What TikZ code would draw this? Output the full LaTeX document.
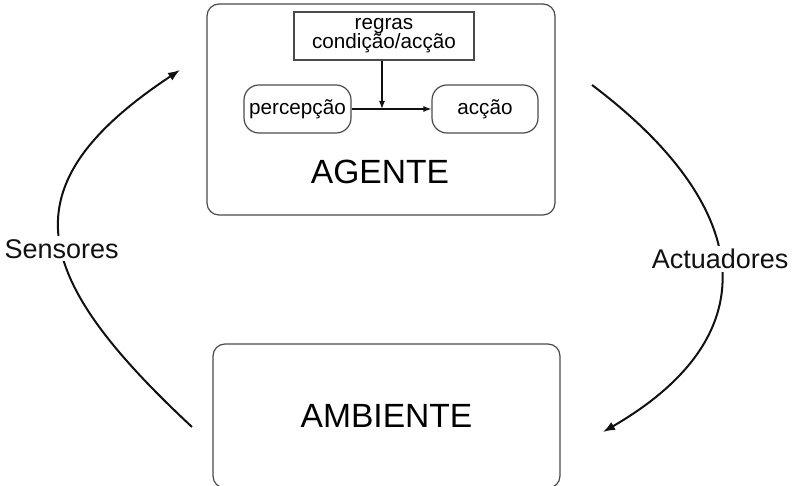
\documentclass[tikz,border=0pt]{standalone}
\usepackage{fontspec}
\setmainfont{Liberation Sans}
\usepackage{tikz}
\usetikzlibrary{positioning,arrows.meta,calc}
\usepackage{xcolor}
\definecolor{ink}{HTML}{111111}
\definecolor{frame}{HTML}{4a4a4a}

\begin{document}
\begin{tikzpicture}[x=1pt,y=1pt,
  font=\fontsize{20.7}{23}\selectfont,
  frm/.style={draw=frame,line width=1.2pt,rounded corners=12pt,inner sep=0pt},
  rule/.style={draw=frame,line width=1.2pt,inner sep=0pt,minimum width=180pt,minimum height=48pt,align=center,
    font=\fontsize{20.7}{22}\selectfont},
  mid/.style={font=\fontsize{27}{30}\selectfont,fill=white,inner sep=3pt},
  big/.style={font=\fontsize{33.6}{36}\selectfont},
  flow/.style={->,ink,line width=2pt},
  >={Latex[length=12pt,width=9pt]}]
  \useasboundingbox (0,0) rectangle (802,486);
  \clip (0,0) rectangle (802,486);
  % agent and its parts
  \node[frm,minimum width=348pt,minimum height=211pt] (agente) at (381,376.5) {};
  \node[big] (agtxt) at (380,314) {AGENTE};
  \node[rule] (regras) at (384,450) {regras\\[-3pt]condição/acção};
  \node[frm,rounded corners=15pt,minimum width=107pt,minimum height=48pt] (perc) at (297.5,377) {percepção};
  \node[frm,rounded corners=15pt,minimum width=106pt,minimum height=48pt] (accao) at (485,377) {acção};
  \draw[->,ink,line width=1.2pt,>={Latex[length=8pt,width=6pt]}] (perc) -- (accao);
  \draw[->,ink,line width=1.2pt,>={Latex[length=8pt,width=6pt]}] (regras.south -| 382,0) -- (382,377);
  % environment
  \node[frm,minimum width=347pt,minimum height=144pt,big] (ambiente) at (386.5,70) {AMBIENTE};
  % loop arrows
  \coordinate (sb) at (192,59);
  \coordinate (st) at (180,416);
  \draw[flow] (sb) .. controls (30,210) and (5,300) .. node[mid,pos=0.46] (sens) {Sensores} (st);
  \coordinate (at) at (592,401);
  \coordinate (ab) at (603,54);
  \draw[flow] (at) .. controls (750,282) and (774,153) .. node[mid,pos=0.48] (act) {Actuadores} (ab);
\end{tikzpicture}
\end{document}
